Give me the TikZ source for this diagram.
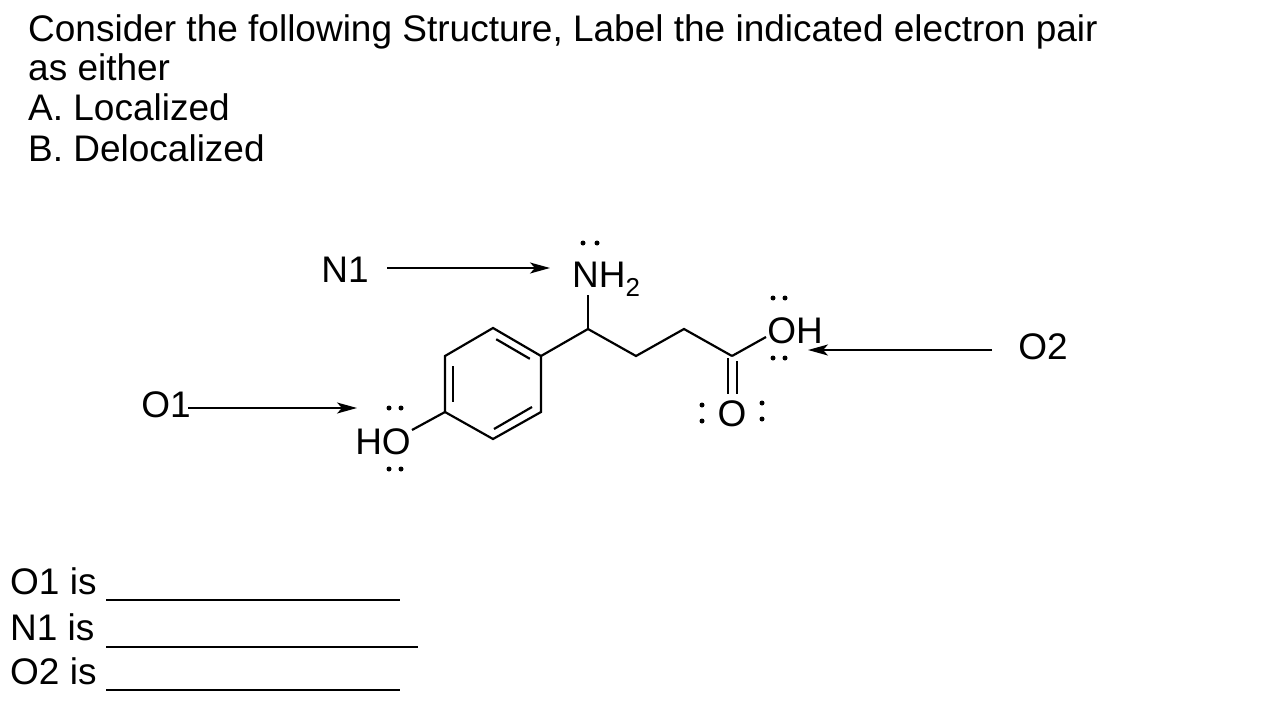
\documentclass[tikz,border=0pt]{standalone}
\usepackage{fontspec}
\setmainfont{Liberation Sans}
\usetikzlibrary{arrows.meta,calc}
\begin{document}
\begin{tikzpicture}[x=1pt,y=-1pt,
  bond/.style={line width=2.2pt},
  arr/.style={line width=1.6pt,-{Stealth[length=20pt,width=11pt,inset=5pt]}},
  txt/.style={font=\fontsize{37}{40}\selectfont,inner sep=0pt},
  atom/.style={font=\fontsize{37}{40}\selectfont,inner sep=0pt},
  dot/.style={circle,fill=black,inner sep=0pt,minimum size=5pt}]
\useasboundingbox (0,0) rectangle (1280,720);
\node[txt,anchor=base west] (hd1) at (28,41) {Consider the following Structure, Label the indicated electron pair};
\node[txt,anchor=base west] (hd2) at (28,80) {as either};
\node[txt,anchor=base west] (hd3) at (28,120) {A. Localized};
\node[txt,anchor=base west] (hd4) at (28,161) {B. Delocalized};
% ring
\coordinate (r1) at (493,328); \coordinate (r2) at (541,356); \coordinate (r3) at (541,412);
\coordinate (r4) at (493,439); \coordinate (r5) at (445,412); \coordinate (r6) at (445,356);
\draw[bond] (r1)--(r2)--(r3)--(r4)--(r5)--(r6)--cycle;
\draw[bond] ($(r1)!0.15!(r2)+(-4,7)$) -- ($(r1)!0.85!(r2)+(-4,7)$);
\draw[bond] (453,366) -- (453,402);
\draw[bond] (494,429) -- (532,407);
\node[atom] (ho) at (383,442) {HO};
\draw[bond] (r5) -- (412,430);
\coordinate (c1) at (588,329); \coordinate (c2) at (636,356); \coordinate (c3) at (684,329); \coordinate (c4) at (732,356);
\draw[bond] (r2)--(c1)--(c2)--(c3)--(c4);
\node[atom,anchor=base west] (nh) at (572,287) {NH\textsubscript{2}};
\draw[bond] (c1) -- (588,295);
\node[atom] (oc) at (732,414) {O};
\draw[bond] (728,358) -- (728,394); \draw[bond] (737,361) -- (737,394);
\node[atom] (oh) at (795,331) {OH};
\draw[bond] (c4) -- (766,337);
% lone pairs
\foreach \p in {(583,243),(597,243),(773,298),(785,298),(773,358),(785,358),(702,405),(702,421),(762,403),(762,419),(389,408),(401,408),(389,469),(401,469)} \node[dot] at \p {};
% arrows
\node[txt] (n1) at (345,270) {N1};
\draw[arr] (387,268) -- (550,268);
\node[txt] (o1) at (166,405) {O1};
\draw[arr] (188,408) -- (357,408);
\node[txt] (o2) at (1043,347) {O2};
\draw[arr] (992,350) -- (808,350);
% blanks
\node[txt,anchor=base west] (a1) at (10,594) {O1 is};
\node[txt,anchor=base west] (a2) at (10,640) {N1 is};
\node[txt,anchor=base west] (a3) at (10,684) {O2 is};
\draw[line width=1.6pt] (106,600) -- (400,600);
\draw[line width=1.6pt] (106,647) -- (418,647);
\draw[line width=1.6pt] (106,690) -- (400,690);
\end{tikzpicture}
\end{document}
